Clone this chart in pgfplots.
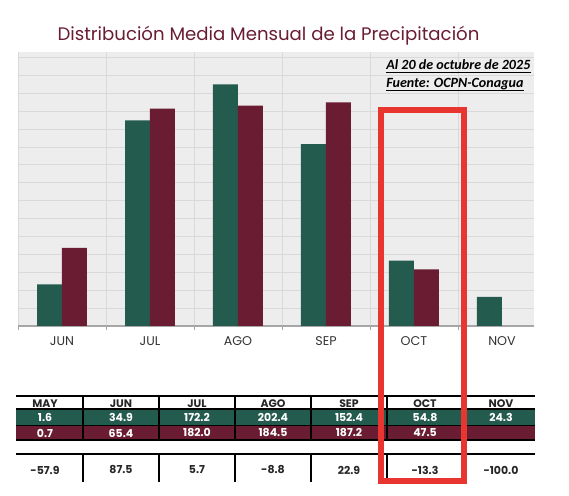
\documentclass[border=0pt]{standalone}
\usepackage{fontspec}
\setmainfont{Poppins}
\newfontfamily\calfont{Carlito}
\usepackage{pgfplots}
\pgfplotsset{compat=1.18}
\definecolor{gverde}{HTML}{235B4E}
\definecolor{gguinda}{HTML}{691C32}
\definecolor{bggray}{HTML}{EDEDED}
\definecolor{gridgray}{HTML}{D9D9D9}
\definecolor{axisgray}{HTML}{A6A6A6}
\definecolor{rojo}{HTML}{E8352F}

\begin{document}
\begin{tikzpicture}
\useasboundingbox (0,0) rectangle (426.75pt,372pt);
\begin{axis}[
  at={(13.5pt,127.5pt)}, anchor=south west, scale only axis,
  width=387pt, height=205.5pt,
  xmin=0.5, xmax=6.364, ymin=0, ymax=229.5,
  axis background/.style={fill=bggray},
  axis x line*=bottom, axis y line*=left,
  y axis line style={draw=none},
  x axis line style={draw=axisgray, line width=1pt, -},
  xtick={1,...,6}, xticklabels={JUN,JUL,AGO,SEP,OCT,NOV},
  minor xtick={0.5,1.5,...,5.5},
  xminorgrids, ymajorgrids,
  ytick={15,30,...,225}, yticklabels={},
  major tick length=0pt, minor tick length=3pt,
  tick align=outside,
  minor x tick style={draw=axisgray},
  grid style={draw=gridgray, line width=0.6pt},
  minor grid style={draw=gridgray, line width=0.6pt},
  xticklabel style={font=\fontsize{9.5}{11}\selectfont, text=black!80, yshift=-4.5pt},
  ybar, bar width=0.284,
  clip=true,
]
\addplot[fill=gverde, draw=none, bar shift=-0.142] coordinates {(0,1.6)(1,34.9)(2,172.2)(3,202.4)(4,152.4)(5,54.8)(6,24.3)};
\addplot[fill=gguinda, draw=none, bar shift=0.142] coordinates {(0,0.7)(1,65.4)(2,182.0)(3,184.5)(4,187.2)(5,47.5)};
\end{axis}
\begin{scope}[shift={(0,372pt)}, x=0.75pt, y=-0.75pt]
\node[anchor=base, inner sep=0, text=gguinda, font=\fontsize{13.6}{16}\selectfont] at (268.5,41) {Distribución Media Mensual de la Precipitación};
\node[anchor=base west, inner sep=0, font=\calfont\bfseries\itshape\fontsize{10.55}{13}\selectfont] (a1) at (386,69.3) {Al 20 de octubre de 2025};
\draw[line width=1.1pt] ([yshift=-2.6pt]a1.base west) -- ([yshift=-2.6pt]a1.base east);
\node[anchor=base west, inner sep=0, font=\calfont\bfseries\itshape\fontsize{10.55}{13}\selectfont] (a2) at (386,87.3) {Fuente: OCPN-Conagua};
\draw[line width=1.1pt] ([yshift=-2.6pt]a2.base west) -- ([yshift=-2.6pt]a2.base east);
% table
\fill[gverde] (16,409) rectangle (535,425.5);
\fill[gguinda] (16,425.5) rectangle (535,440);
\foreach \x in {83,159,235,311,387,462} {
  \draw[line width=1.1pt] (\x,396) -- (\x,440);
  \draw[line width=1.1pt] (\x,454) -- (\x,482);
}
\draw[line width=1.4pt] (16,396) -- (535,396);
\draw[line width=1.6pt] (16,409) -- (535,409);
\draw[line width=1.1pt] (16,425.5) -- (535,425.5);
\draw[line width=1.6pt] (16,440) -- (535,440);
\draw[line width=1.4pt] (16,454) -- (535,454);
\foreach \x/\t in {45/MAY,121/JUN,197/JUL,273/AGO,349/SEP,425/OCT,501/NOV}
  \node[font=\bfseries\fontsize{8.2}{10}\selectfont, text=black!85] at (\x,403.5) {\t};
\foreach \x/\t in {45/1.6,121/34.9,197/172.2,273/202.4,349/152.4,425/54.8,501/24.3}
  \node[font=\bfseries\fontsize{8.2}{10}\selectfont, text=white] at (\x,417.8) {\t};
\foreach \x/\t in {45/0.7,121/65.4,197/182.0,273/184.5,349/187.2,425/47.5}
  \node[font=\bfseries\fontsize{8.2}{10}\selectfont, text=white] at (\x,433) {\t};
\foreach \x/\t in {45/-57.9,121/87.5,197/5.7,273/-8.8,349/22.9,425/-13.3,501/-100.0}
  \node[font=\bfseries\fontsize{8.2}{10}\selectfont, text=black!85] at (\x,470) {\t};
\draw[rojo, line width=4.1pt] (381,110) rectangle (464,481);
\end{scope}
\end{tikzpicture}
\end{document}
